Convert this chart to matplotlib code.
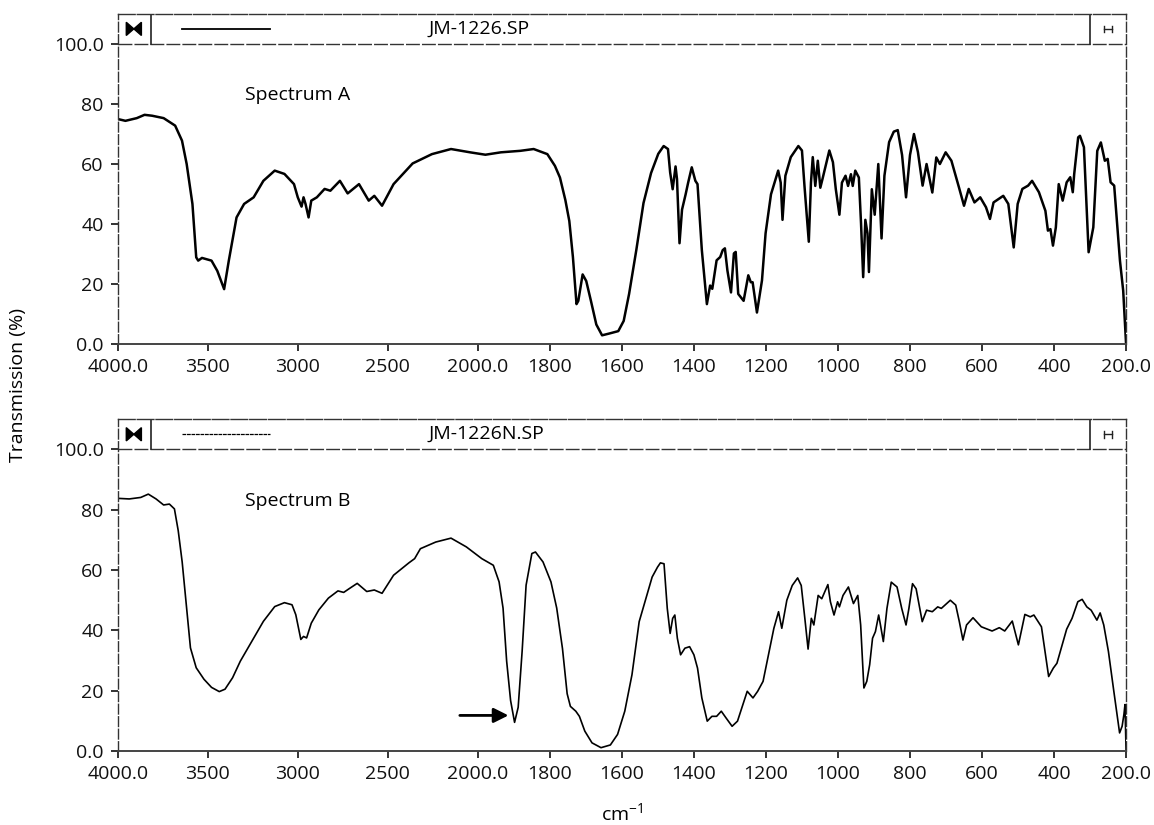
import matplotlib
matplotlib.use("Agg")
import matplotlib.pyplot as plt
import numpy as np
from matplotlib.patches import Polygon
from matplotlib.ticker import FixedLocator, FixedFormatter

# Spectrum A (JM-1226.SP)
wn_a = [4000, 3957, 3894, 3851, 3809, 3745, 3681, 3643, 3617, 3585, 3564, 3553, 3532, 3479,
        3447, 3409, 3383, 3340, 3298, 3245, 3191, 3128, 3074, 3021, 3000, 2979, 2968, 2957,
        2940, 2925, 2894, 2851, 2819, 2766, 2723, 2660, 2606, 2575, 2532, 2468, 2362, 2255,
        2149, 2043, 1979, 1936, 1882, 1845, 1807, 1786, 1772, 1757, 1746, 1736, 1726, 1721,
        1709, 1699, 1686, 1671, 1655, 1635, 1610, 1595, 1580, 1560, 1540, 1519, 1499, 1484,
        1472, 1466, 1459, 1451, 1447, 1440, 1433, 1423, 1416, 1406, 1396, 1390, 1378, 1364,
        1355, 1349, 1337, 1327, 1320, 1314, 1307, 1297, 1289, 1284, 1277, 1262, 1249, 1242,
        1237, 1225, 1211, 1201, 1186, 1166, 1159, 1154, 1146, 1131, 1110, 1100, 1093, 1081,
        1075, 1070, 1063, 1056, 1049, 1043, 1024, 1014, 1006, 996, 989, 979, 972, 964, 959,
        952, 942, 936, 930, 924, 918, 914, 906, 898, 888, 879, 871, 858, 845, 834, 822, 811,
        800, 789, 778, 765, 754, 738, 727, 717, 701, 685, 664, 650, 637, 621, 605, 589, 578,
        568, 541, 527, 512, 501, 488, 472, 461, 442, 424, 417, 410, 403, 395, 387, 376, 365,
        355, 348, 344, 333, 328, 317, 304, 291, 280, 270, 259, 251, 243, 233, 227, 217, 208, 200]
t_a = [75.0, 74.4, 75.3, 76.4, 76.1, 75.3, 72.8, 67.8, 60.0, 46.7, 28.9, 27.8, 28.7, 27.8,
       24.4, 18.3, 27.8, 42.2, 46.7, 48.9, 54.4, 57.8, 56.7, 53.3, 48.9, 45.8, 48.9, 46.7,
       42.2, 47.8, 48.9, 51.7, 51.1, 54.4, 50.2, 53.3, 47.8, 49.4, 46.1, 53.3, 60.2, 63.3,
       65.0, 63.9, 63.1, 63.9, 64.4, 65.0, 63.3, 59.4, 55.5, 48.0, 41.0, 29.0, 13.3, 14.4,
       23.2, 21.0, 14.4, 6.5, 2.9, 3.5, 4.3, 7.7, 16.7, 31.3, 47.0, 57.0, 63.4, 66.0,
       65.0, 57.2, 51.6, 59.2, 55.0, 33.6, 44.8, 49.9, 53.8, 58.9, 54.4, 53.3, 31.3, 13.3,
       19.5, 18.4, 27.9, 29.0, 31.3, 31.9, 24.5, 17.2, 30.2, 30.7, 16.7, 14.4, 22.9, 20.6,
       20.6, 10.5, 21.2, 36.9, 49.9, 57.8, 53.8, 41.4, 56.1, 62.3, 66.0, 64.5, 52.7, 34.1,
       53.8, 62.3, 52.7, 61.1, 52.1, 55.0, 64.5, 60.6, 51.6, 43.1, 53.8, 56.1, 52.7, 56.6, 52.7,
       57.8, 55.5, 40.3, 22.3, 41.4, 36.9, 24.0, 51.6, 43.1, 60.0, 35.2, 56.1, 67.3, 70.8, 71.3, 63.0, 48.9,
       63.0, 70.0, 64.0, 52.8, 60.0, 50.5, 62.2, 60.0, 63.9, 61.1, 52.2, 46.1, 51.7, 47.2, 48.9, 45.6, 41.7,
       47.2, 49.4, 46.7, 32.2, 46.7, 51.7, 52.8, 54.4, 50.6, 44.4, 37.8, 38.3, 32.8, 38.9, 53.3, 47.8, 53.9,
       55.6, 50.6, 56.7, 68.9, 69.4, 65.6, 30.6, 38.9, 64.4, 67.2, 61.1, 61.7, 53.9, 52.8, 43.3, 27.8, 17.8, 0.0]

# Spectrum B (JM-1226N.SP)
wn_b = [4000, 3936, 3872, 3830, 3787, 3745, 3713, 3685, 3664, 3642, 3621, 3596, 3564, 3521,
        3479, 3436, 3404, 3362, 3319, 3255, 3191, 3128, 3074, 3032, 3011, 2983, 2968, 2951,
        2925, 2883, 2830, 2777, 2745, 2713, 2670, 2617, 2575, 2532, 2468, 2383, 2351, 2319,
        2234, 2149, 2064, 1989, 1957, 1941, 1930, 1920, 1909, 1898, 1888, 1877, 1866, 1850,
        1840, 1819, 1797, 1781, 1765, 1752, 1743, 1728, 1718, 1703, 1683, 1658, 1632, 1612,
        1592, 1572, 1552, 1531, 1516, 1501, 1493, 1483, 1474, 1466, 1459, 1453, 1446, 1437,
        1425, 1412, 1400, 1390, 1378, 1363, 1350, 1337, 1324, 1311, 1294, 1279, 1264, 1252,
        1236, 1223, 1208, 1193, 1178, 1165, 1156, 1142, 1127, 1112, 1102, 1092, 1083, 1074,
        1067, 1055, 1045, 1028, 1021, 1011, 1001, 996, 986, 971, 957, 945, 937, 928, 920, 912,
        904, 896, 887, 882, 874, 864, 852, 836, 823, 811, 803, 793, 783, 773, 766, 754, 738,
        723, 713, 688, 673, 663, 653, 643, 625, 602, 572, 552, 537, 516, 499, 481, 466, 456,
        435, 425, 415, 402, 392, 380, 365, 350, 334, 322, 309, 297, 281, 272, 262, 249, 234,
        218, 211, 206, 203, 200]
t_b = [83.8, 83.6, 84.1, 85.2, 83.6, 81.6, 81.9, 80.3, 73.1, 62.7, 49.6, 34.2, 27.6, 23.8,
       21.1, 19.7, 20.5, 24.3, 29.8, 36.4, 43.0, 47.9, 49.2, 48.5, 45.2, 37.0, 38.0, 37.5,
       42.4, 46.8, 50.7, 53.1, 52.6, 53.9, 55.6, 52.9, 53.4, 52.3, 58.3, 62.4, 63.8, 67.1,
       69.3, 70.6, 67.7, 63.8, 61.6, 56.1, 47.4, 29.8, 16.7, 9.5, 14.5, 33.1, 55.0, 65.5,
       66.0, 62.7, 56.1, 47.4, 34.0, 19.0, 14.8, 13.2, 11.5, 6.6, 2.7, 1.1, 2.0, 5.5,
       13.2, 25.3, 42.9, 51.6, 57.7, 61.0, 62.4, 62.1, 47.3, 39.0, 44.0, 45.1, 37.4, 31.9,
       34.1, 34.6, 31.9, 27.5, 17.6, 9.9, 11.5, 11.5, 13.2, 11.0, 8.2, 9.9, 15.4, 19.8,
       17.6, 19.8, 23.1, 31.9, 40.7, 46.2, 40.7, 50.0, 54.9, 57.4, 54.9, 44.0, 33.8, 44.0,
       41.8, 51.6, 50.5, 55.2, 49.5, 45.1, 49.5, 47.8, 51.6, 54.4, 48.9, 51.6, 41.8, 20.9, 23.1, 28.6,
       37.4, 39.6, 45.1, 41.8, 36.3, 47.3, 56.0, 54.4, 47.3, 41.8, 47.3, 55.5, 53.8, 47.3, 42.9, 46.7, 46.2,
       47.8, 47.3, 50.0, 48.4, 42.9, 36.8, 41.8, 44.2, 41.2, 39.8, 40.9, 39.8, 43.1, 35.2, 45.3, 44.5, 45.1,
       41.2, 33.0, 24.7, 27.5, 29.1, 34.1, 40.4, 44.0, 49.5, 50.3, 47.8, 46.7, 43.4, 45.8, 41.8, 33.0, 19.8,
       6.0, 8.2, 12.1, 15.4, 0.0]

file_names = ["JM-1226.SP", "JM-1226N.SP"]
spectrum_names = ["Spectrum A", "Spectrum B"]
x_ticks = [4000, 3500, 3000, 2500, 2000, 1800, 1600, 1400, 1200, 1000, 800, 600, 400, 200]
x_labels = ["4000.0", "3500", "3000", "2500", "2000.0", "1800", "1600", "1400", "1200",
            "1000", "800", "600", "400", "200.0"]
y_ticks = [0, 20, 40, 60, 80, 100]
y_labels = ["0.0", "20", "40", "60", "80", "100.0"]

plt.rcParams['font.family'] = ['Open Sans', 'DejaVu Sans']
plt.rcParams['mathtext.default'] = 'regular'


# scale changes at 2000 cm-1 (half the expansion above it)
def fwd(x):
    x = np.asarray(x, dtype=float)
    return np.where(x > 2000, 2000 + (x - 2000) / 2.0, x)


def inv(u):
    u = np.asarray(u, dtype=float)
    return np.where(u > 2000, 2000 + (u - 2000) * 2.0, u)


fig = plt.figure(figsize=(11.54, 8.25), dpi=100)
ax_a = fig.add_axes([0.102, 0.583, 0.8738, 0.400])
ax_b = fig.add_axes([0.102, 0.0897, 0.8738, 0.402])

series = [(wn_a, t_a, 1.8, '-'), (wn_b, t_b, 1.2, (0, (3, 0.6)))]

for i, ax in enumerate([ax_a, ax_b]):
    wn, tr, lw, legstyle = series[i]
    ax.plot(wn, tr, color='black', lw=lw, solid_joinstyle='round')

    ax.set_xscale('function', functions=(fwd, inv))
    ax.set_xlim(4000, 200)
    ax.set_ylim(0, 110)
    ax.xaxis.set_major_locator(FixedLocator(x_ticks))
    ax.xaxis.set_major_formatter(FixedFormatter(x_labels))
    ax.xaxis.set_minor_locator(FixedLocator([]))
    ax.set_yticks(y_ticks)
    ax.set_yticklabels(y_labels)
    ax.tick_params(direction='out', length=5, width=1.2, labelsize=14, pad=5, colors='#111111')

    for side in ['left', 'right', 'top']:
        ax.spines[side].set_linewidth(1.0)
        ax.spines[side].set_color('#333333')
    ax.spines['left'].set_linestyle((0, (7, 2)))
    ax.spines['right'].set_linestyle((0, (7, 2)))
    ax.spines['top'].set_linestyle((0, (12, 1.5)))
    ax.spines['bottom'].set_linewidth(1.4)
    ax.spines['bottom'].set_color('#444444')

    # header strip
    ax.axhline(100, color='#333333', lw=1.0, ls=(0, (10, 1.5)))
    ax.axvline(0.033 * 0 + 3815, ymin=100 / 110, ymax=1, color='#222222', lw=1.2)
    ax.plot([0.964, 0.964], [100 / 110, 1], transform=ax.transAxes, color='#222222', lw=1.2)
    ax.plot([0.064, 0.151], [105 / 110, 105 / 110], transform=ax.transAxes, color='black',
            lw=1.3 if i == 0 else 0.9, ls=legstyle)
    cx, cy, hw, hh = 0.016, 0.955, 0.0075, 0.02
    ax.add_patch(Polygon([[cx - hw, cy - hh], [cx - hw, cy + hh], [cx, cy]],
                         closed=True, color='black', transform=ax.transAxes))
    ax.add_patch(Polygon([[cx + hw, cy - hh], [cx + hw, cy + hh], [cx, cy]],
                         closed=True, color='black', transform=ax.transAxes))
    ax.plot([0.978, 0.986], [cy, cy], transform=ax.transAxes, color='#222222', lw=1)
    ax.plot([0.978, 0.978], [cy - 0.01, cy + 0.01], transform=ax.transAxes, color='#222222', lw=1)
    ax.plot([0.986, 0.986], [cy - 0.01, cy + 0.01], transform=ax.transAxes, color='#222222', lw=1)

    ax.text(0.308, cy, file_names[i], transform=ax.transAxes, fontsize=14,
            ha='left', va='center')
    ax.text(0.126, 83 / 110, spectrum_names[i], transform=ax.transAxes, fontsize=14,
            ha='left', va='center')

ax_b.annotate('', xy=(1915, 11.8), xytext=(2100, 11.8),
              arrowprops=dict(arrowstyle='-|>', color='black', lw=2, mutation_scale=22,
                              shrinkA=0, shrinkB=0))

ax_b.set_xlabel('cm$^{-1}$', fontsize=14, labelpad=14)
fig.text(0.016, 0.533, 'Transmission (%)', rotation=90, fontsize=14, ha='center', va='center')

fig.savefig('out.png', dpi=100)
